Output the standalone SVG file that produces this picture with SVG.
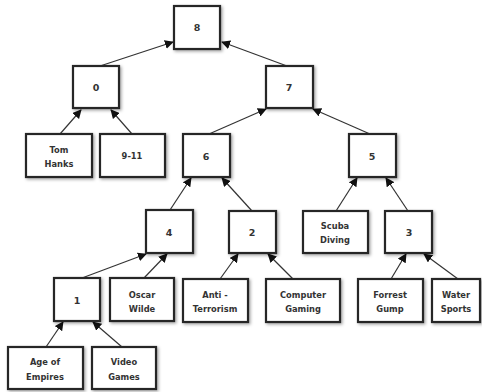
<svg xmlns="http://www.w3.org/2000/svg" width="482" height="392" viewBox="0 0 482 392">
<defs>
<style>
.box{fill:#fff;stroke:#262626;stroke-width:2.2;filter:url(#sh)}
.t{font-family:"DejaVu Sans","Liberation Sans",sans-serif;font-weight:bold;font-size:8.3px;fill:#333;text-anchor:middle}
.n{font-size:9.5px}
.e{stroke:#333;stroke-width:1.2;fill:none;marker-end:url(#ah)}
</style>
<filter id="sh" x="-20%" y="-20%" width="150%" height="150%">
<feDropShadow dx="1.5" dy="1.5" stdDeviation="1.5" flood-color="#000" flood-opacity="0.35"/>
</filter>
<marker id="ah" viewBox="0 0 10 10" refX="9" refY="5" markerWidth="9" markerHeight="9" markerUnits="userSpaceOnUse" orient="auto">
<path d="M0,0 L10,5 L0,10 z" fill="#111"/>
</marker>
</defs>
<rect width="482" height="392" fill="#fff"/>
<g id="connectors">
<line class="e" x1="100" y1="66" x2="173" y2="42"/>
<line class="e" x1="287" y1="66" x2="222" y2="42"/>
<line class="e" x1="60" y1="134" x2="81" y2="110"/>
<line class="e" x1="132" y1="134" x2="111" y2="110"/>
<line class="e" x1="209" y1="134" x2="266" y2="109"/>
<line class="e" x1="370" y1="134" x2="313" y2="109"/>
<line class="e" x1="170" y1="210" x2="191" y2="178"/>
<line class="e" x1="252" y1="211" x2="222" y2="178"/>
<line class="e" x1="336" y1="211" x2="357" y2="178"/>
<line class="e" x1="408" y1="211" x2="386" y2="178"/>
<line class="e" x1="82" y1="278" x2="146" y2="254"/>
<line class="e" x1="144" y1="278" x2="167" y2="254"/>
<line class="e" x1="220" y1="279" x2="238" y2="254"/>
<line class="e" x1="293" y1="279" x2="268" y2="254"/>
<line class="e" x1="391" y1="279" x2="406" y2="254"/>
<line class="e" x1="458" y1="279" x2="424" y2="254"/>
<line class="e" x1="46" y1="347" x2="63" y2="322"/>
<line class="e" x1="122" y1="347" x2="93" y2="322"/>
</g>
<g id="n8"><rect class="box" x="174" y="6" width="46" height="43"/><text class="t n" x="197" y="31">8</text></g>
<g id="n0"><rect class="box" x="73" y="66" width="46" height="42"/><text class="t n" x="96" y="91">0</text></g>
<g id="n7"><rect class="box" x="266" y="66" width="47" height="42"/><text class="t n" x="289" y="91">7</text></g>
<g id="tomhanks"><rect class="box" x="26" y="134" width="66" height="43"/><text class="t" x="59" y="153">Tom</text><text class="t" x="59" y="167">Hanks</text></g>
<g id="n911"><rect class="box" x="100" y="134" width="65" height="43"/><text class="t" x="132" y="159">9-11</text></g>
<g id="n6"><rect class="box" x="183" y="134" width="47" height="43"/><text class="t n" x="206" y="160">6</text></g>
<g id="n5"><rect class="box" x="349" y="134" width="47" height="43"/><text class="t n" x="372" y="160">5</text></g>
<g id="n4"><rect class="box" x="146" y="210" width="47" height="43"/><text class="t n" x="169" y="236">4</text></g>
<g id="n2"><rect class="box" x="229" y="211" width="47" height="42"/><text class="t n" x="252" y="236">2</text></g>
<g id="scuba"><rect class="box" x="303" y="211" width="65" height="42"/><text class="t" x="335" y="229">Scuba</text><text class="t" x="335" y="243">Diving</text></g>
<g id="n3"><rect class="box" x="385" y="211" width="47" height="42"/><text class="t n" x="409" y="236">3</text></g>
<g id="n1"><rect class="box" x="54" y="278" width="46" height="43"/><text class="t n" x="77" y="304">1</text></g>
<g id="oscar"><rect class="box" x="110" y="278" width="64" height="43"/><text class="t" x="142" y="298">Oscar</text><text class="t" x="142" y="312">Wilde</text></g>
<g id="anti"><rect class="box" x="183" y="279" width="65" height="43"/><text class="t" x="215" y="298">Anti -</text><text class="t" x="215" y="312">Terrorism</text></g>
<g id="computer"><rect class="box" x="266" y="279" width="74" height="43"/><text class="t" x="303" y="298">Computer</text><text class="t" x="303" y="312">Gaming</text></g>
<g id="forrest"><rect class="box" x="358" y="279" width="65" height="43"/><text class="t" x="390" y="298">Forrest</text><text class="t" x="390" y="312">Gump</text></g>
<g id="water"><rect class="box" x="432" y="279" width="48" height="43"/><text class="t" x="456" y="298">Water</text><text class="t" x="456" y="312">Sports</text></g>
<g id="age"><rect class="box" x="8" y="347" width="75" height="42"/><text class="t" x="45" y="365">Age of</text><text class="t" x="45" y="380">Empires</text></g>
<g id="video"><rect class="box" x="92" y="347" width="64" height="42"/><text class="t" x="124" y="365">Video</text><text class="t" x="124" y="380">Games</text></g>
</svg>
